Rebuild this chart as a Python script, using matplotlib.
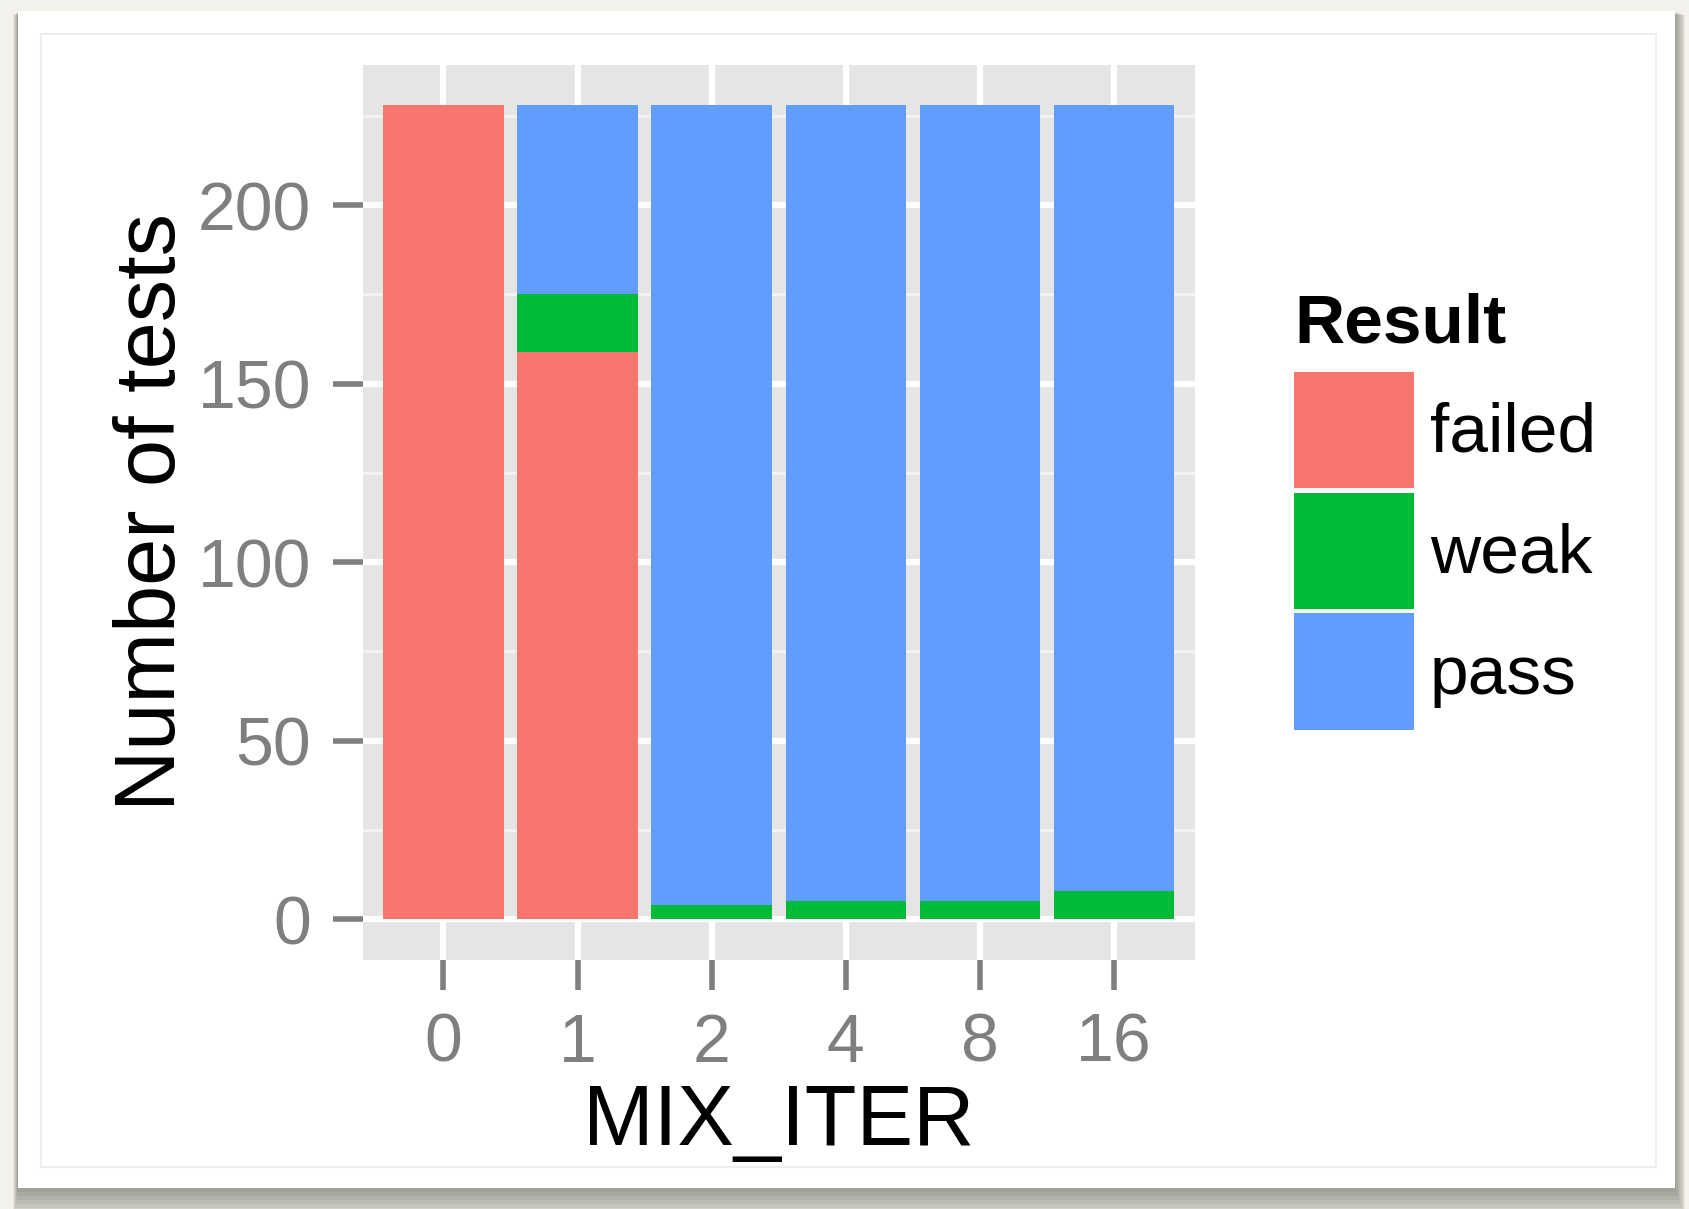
"""Stacked bar chart: test results by MIX_ITER (ggplot-like look)."""
import matplotlib
matplotlib.use("Agg")
import matplotlib.pyplot as plt
from matplotlib.patches import Patch, Rectangle
import numpy as np

MIX_ITER = ["0", "1", "2", "4", "8", "16"]
FAILED = [228, 159, 0, 0, 0, 0]
WEAK = [0, 16, 4, 5, 5, 8]
PASS = [0, 53, 224, 223, 223, 220]

RESULTS = ["failed", "weak", "pass"]
COLORS = {"failed": "#F8766D", "weak": "#00BA38", "pass": "#619CFF"}

W, H = 1689, 1209
DPI = 100

plt.rcParams["font.family"] = ["Liberation Sans", "DejaVu Sans"]


def px_box(x0, y0, x1, y1):
    """Pixel box (top-left origin) -> figure fraction [l, b, w, h]."""
    return [x0 / W, 1 - y1 / H, (x1 - x0) / W, (y1 - y0) / H]


def fig_rect(fig, x0, y0, x1, y1, **kw):
    l, b, w, h = px_box(x0, y0, x1, y1)
    fig.add_artist(Rectangle((l, b), w, h, transform=fig.transFigure, **kw))


def draw_card(fig):
    fig.patch.set_facecolor("#F4F2EC")
    # soft drop shadow under the white card (stacked translucent layers)
    for k in range(1, 9):
        fig_rect(fig, 18 - 0.6 * k, 11 + 0.5 * k, 1675 + 1.3 * k, 1188 + 4 * k,
                 facecolor="#1a1a10", alpha=0.055, edgecolor="none", zorder=-3)
    fig_rect(fig, 18, 11, 1675, 1188, facecolor="white", edgecolor="none", zorder=-2)
    fig_rect(fig, 41, 34, 1656, 1167, facecolor="none", edgecolor="#EEEEEE",
             linewidth=1.5, zorder=-1)


def main() -> None:
    fig = plt.figure(figsize=(W / DPI, H / DPI), dpi=DPI)
    draw_card(fig)

    ax = fig.add_axes(px_box(363, 64.6, 1194.6, 959.8))
    x = np.arange(len(MIX_ITER))
    series = {"failed": FAILED, "weak": WEAK, "pass": PASS}
    bottom = np.zeros(len(MIX_ITER))
    for r in RESULTS:
        vals = np.array(series[r], dtype=float)
        ax.bar(x, vals, width=0.9, bottom=bottom, color=COLORS[r], linewidth=0)
        bottom += vals

    ax.set_xlim(-0.6, len(MIX_ITER) - 0.4)
    ax.set_ylim(-11.4, 239.4)
    ax.set_xticks(x)
    ax.set_xticklabels(MIX_ITER)
    ax.set_yticks([0, 50, 100, 150, 200])
    ax.set_yticks([25, 75, 125, 175, 225], minor=True)

    ax.set_facecolor("#E5E5E5")
    for s in ax.spines.values():
        s.set_visible(False)
    ax.set_axisbelow(True)
    ax.grid(which="major", color="white", linewidth=4.5)
    ax.yaxis.grid(which="minor", color="#F2F2F2", linewidth=2.2)
    ax.tick_params(which="major", length=21.5, width=4, color="#7F7F7F",
                   labelcolor="#7F7F7F", labelsize=49, pad=16)
    ax.tick_params(which="minor", length=0)

    fig.text(779 / W, 1 - 1145 / H, "MIX_ITER", ha="center", va="baseline", fontsize=61)
    fig.text(153 / W, 1 - 512 / H, "Number of tests", ha="center", va="center",
             rotation=90, fontsize=61)

    # legend: title as its own text, keys via ax.legend
    fig.text(1294 / W, 1 - 342.5 / H, "Result", ha="left", va="baseline",
             fontsize=50, fontweight="bold")
    handles = [Patch(facecolor=COLORS[r], edgecolor="none") for r in RESULTS]
    ax.legend(
        handles, RESULTS,
        loc="upper left", bbox_to_anchor=(1293.7 / W, 1 - 371.6 / H),
        bbox_transform=fig.transFigure, frameon=False, fontsize=50,
        handlelength=1.73, handleheight=2.21, labelspacing=0.06,
        handletextpad=0.23, borderpad=0, borderaxespad=0,
    )

    fig.savefig("out.png", dpi=DPI, facecolor=fig.get_facecolor())
    plt.close(fig)


if __name__ == "__main__":
    main()
